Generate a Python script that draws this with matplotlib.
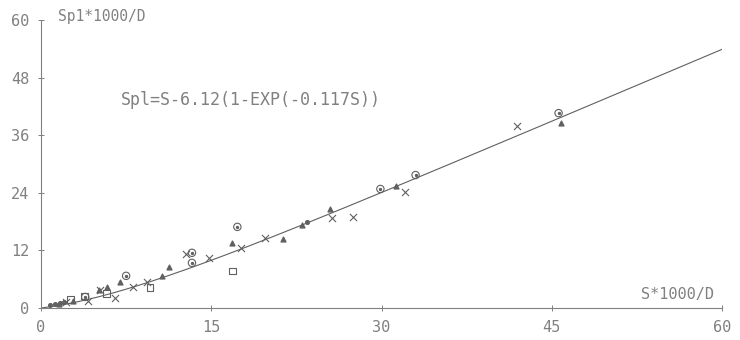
import numpy as np
import matplotlib
matplotlib.use("Agg")
import matplotlib.pyplot as plt

# data
circ_x = [45.6, 33.0, 29.9, 17.3, 13.3, 7.5, 3.9, 13.3]
circ_y = [40.6, 27.7, 24.8, 16.9, 11.5, 6.7, 2.3, 9.4]

cross_x = [41.9, 32.1, 27.5, 25.6, 19.7, 17.6, 14.8, 12.8, 9.3, 8.1, 6.5, 4.1, 5.2, 2.2]
cross_y = [37.9, 24.2, 19.0, 18.8, 14.6, 12.5, 10.4, 11.25, 5.4, 4.4, 2.1, 1.4, 3.75, 1.2]

tri_x = [45.8, 31.3, 25.5, 21.3, 16.8, 23.0, 11.3, 10.7, 7.0, 5.1, 5.8, 1.6, 2.8]
tri_y = [38.5, 25.4, 20.6, 14.4, 13.5, 17.3, 8.5, 6.7, 5.4, 3.75, 4.4, 0.9, 1.4]

sq_x = [16.9, 9.6, 5.8, 3.8, 2.6]
sq_y = [7.7, 4.2, 3.1, 2.5, 1.7]

dot_x = [0.8, 1.2, 1.7, 2.0, 23.4]
dot_y = [0.6, 0.8, 1.1, 1.2, 17.9]

a, b = 6.12, 0.117
xticks = [0, 15, 30, 45, 60]
yticks = [0, 12, 24, 36, 48, 60]

ink = "#606060"
txt = "#808080"

fig = plt.figure(figsize=(7.4, 3.4), dpi=100)
ax = fig.add_axes([0.0554, 0.0941, 0.9203, 0.8471])

s = np.linspace(0, 60, 300)
ax.plot(s, s - a * (1 - np.exp(-b * s)), color=ink, lw=0.8)

ax.scatter(circ_x, circ_y, s=28, facecolors="none", edgecolors=ink, linewidths=0.8)
ax.scatter(circ_x, circ_y, s=2, color=ink)
ax.scatter(cross_x, cross_y, s=26, marker="x", color=ink, linewidths=0.8)
ax.scatter(tri_x, tri_y, s=12, marker="^", color=ink)
ax.scatter(sq_x, sq_y, s=24, marker="s", facecolors="none", edgecolors=ink, linewidths=0.8)
ax.scatter(dot_x, dot_y, s=7, color=ink)

ax.set_xlim(0, 60)
ax.set_ylim(0, 60)
ax.set_xticks(xticks)
ax.set_yticks(yticks)
ax.tick_params(direction="inout", length=5, width=0.7, color=txt,
               labelcolor=txt, labelsize=11, pad=6)
for lab in ax.get_xticklabels() + ax.get_yticklabels():
    lab.set_family("DejaVu Sans Mono")
for side in ["top", "right"]:
    ax.spines[side].set_visible(False)
for side in ["left", "bottom"]:
    ax.spines[side].set_color(txt)
    ax.spines[side].set_linewidth(0.8)

ax.text(1.5, 60.8, "Sp1*1000/D", family="DejaVu Sans Mono", color=txt,
        fontsize=10.5, va="center", ha="left", clip_on=False)
ax.text(59.3, 1.2, "S*1000/D", family="DejaVu Sans Mono", color=txt,
        fontsize=11, va="bottom", ha="right")
ax.text(7.0, 43.3, "Spl=S-6.12(1-EXP(-0.117S))", family="DejaVu Sans Mono",
        color=txt, fontsize=12, va="center", ha="left")

fig.savefig("out.png", dpi=100)
